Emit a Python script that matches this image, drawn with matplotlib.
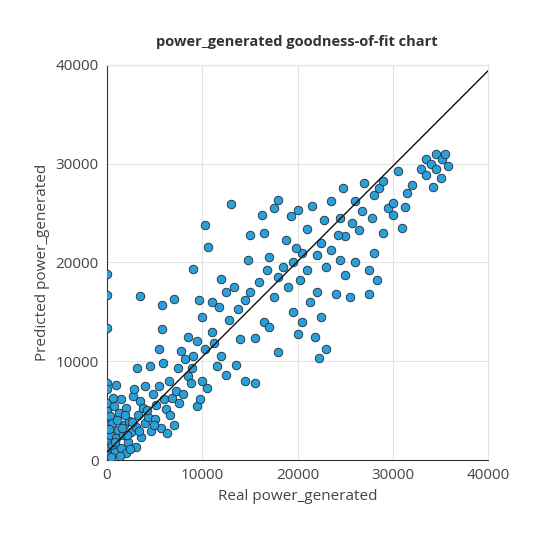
import matplotlib
matplotlib.use("Agg")
import matplotlib.pyplot as plt
import numpy as np

plt.rcParams['font.family'] = ['Open Sans', 'DejaVu Sans']

pts_k = [(0,18.8),(0,16.7),(0,13.4),(0,7.8),(0,7.2),(0,5.8),(0,5),(0,4.3),(0,3.5),(0,2.8),(0,2),(0,1.2),(0,0.5),
(0.3,4.5),(0.3,2.5),(0.5,1.5),(0.5,3.8),(0.7,5.5),(0.8,0.8),(1,2.2),(1,7.6),(1.2,3),(1.3,4.8),(1.5,1.2),(1.5,6.2),
(1.7,2.5),(1.8,3.6),(2,0.7),(2,5.3),(2.2,1.8),(2.3,4),(2.5,2.8),(2.7,6.5),(2.8,7.2),(3,3.3),(3,1.3),(3.2,9.3),(3.3,4.6),
(3.5,16.6),(3.5,6),(3.6,2.3),(3.8,5.3),(4,3.8),(4,7.5),(4.3,4.4),(4.5,9.5),(4.6,2.9),(4.8,6.7),(5,4.2),(5.2,5.6),
(5.5,11.2),(5.5,7.5),(5.7,3.2),(5.8,15.7),(5.8,13.3),(5.9,9.8),(6,6.2),(6.2,5.2),(6.3,2.7),(6.5,8),(6.8,6.3),(7,3.5),
(7,16.3),(7.2,7),(7.5,9.3),(7.8,11),(8,6.7),(8.2,10.2),(8.5,8.5),(8.5,12.5),(8.8,7.8),(9,19.3),(9,10.5),(9.5,5.5),
(9.5,12),(9.7,16.2),(10,8),(10,14.5),(10.3,23.8),(10.3,11.2),(10.5,7.3),(10.6,21.6),(11,16),(11,13),(11.5,9.5),
(11.8,15.5),(12,10.5),(12,18.3),(12.5,17),(12.5,8.6),(12.8,14.2),(13,25.9),(13.3,17.5),(13.5,9.6),(14,12.3),
(14.5,16.2),(14.5,8),(14.8,20.2),(15,22.8),(15,17),(15.5,7.8),(15.5,12.4),(16,18),(16.3,24.8),(16.5,23),(16.5,14),
(17,20.5),(17,13.5),(17.5,25.5),(17.5,16.5),(18,26.3),(18,18.5),(18,10.9),(18.5,19.5),(18.8,22.3),(19,17.5),
(19.3,24.7),(19.5,20),(19.5,15),(20,12.8),(20,25.3),(20.3,18.2),(20.5,21),(20.5,14),(21,23.4),(21,19.2),(21.3,16),
(21.5,25.7),(21.8,12.5),(22,20.8),(22,17),(22.3,10.3),(22.5,22),(22.5,14.5),(23,11.2),(23,19.5),(23.5,26.2),
(23.5,21.3),(24,16.8),(24.5,20.2),(24.5,24.5),(24.8,27.5),(25,22.7),(25,18.7),(25.5,16.5),(25.7,24),(26,26.2),
(26,20),(26.5,23.3),(27,28),(27.5,16.8),(27.5,19.2),(27.8,24.5),(28,26.8),(28,21),(28.3,18.2),(28.5,27.5),(29,28.2),
(29,23),(29.5,25.5),(30,24.8),(30,26),(30.5,29.3),(31,23.5),(31.3,25.6),(31.5,27),(32,27.8),(33,29.5),(33.5,30.5),
(33.5,28.8),(34,30),(34.2,27.6),(34.5,31),(34.5,29.5),(35,28.5),(35.2,30.5),(35.5,31),(35.8,29.8),
(0.4,0.3),(0.9,1.8),(1.1,4.1),(1.4,0.4),(1.6,3.2),(2.1,2.5),(2.4,1.1),(0.6,6.3),(0.2,3.1),(1.9,4.6),(2.6,3.9),
(3.4,2.9),(4.2,5.1),(4.9,3.6),(6.6,4.6),(7.6,5.8),(8.9,9.3),(9.8,6.2),(11.2,11.8),(13.8,15.3),(16.8,19.2),
(19.8,21.5),(22.8,24.3),(26.8,25.2),(24.2,22.8)]

real = [p[0]*1000 for p in pts_k]
pred = [p[1]*1000 for p in pts_k]
line_x = [0, 40000]
line_y = [800, 39400]

fig = plt.figure(figsize=(5.4,5.4), dpi=100)
ax = fig.add_axes([0.198, 0.148, 0.706, 0.732])
ax.scatter(real, pred, s=38, c='#2b9fd8', edgecolors='#1f2d3a', linewidths=0.6, zorder=3)
ax.plot(line_x, line_y, color='#111111', lw=1, zorder=4)
ax.set_xlim(0, 40000); ax.set_ylim(0, 40000)
ax.set_xticks([0,10000,20000,30000,40000]); ax.set_yticks([0,10000,20000,30000,40000])
ax.grid(True, color='#e3e3e3', lw=0.8, zorder=0)
for s in ax.spines.values():
    s.set_color('#e3e3e3')
ax.spines['left'].set_color('#333333'); ax.spines['bottom'].set_color('#333333')
ax.tick_params(length=0, labelsize=11, colors='#444444', pad=6)
ax.set_xlabel('Real power_generated', fontsize=11, color='#444444')
ax.set_ylabel('Predicted power_generated', fontsize=11, color='#444444')
fig.text(0.55, 0.915, 'power_generated goodness-of-fit chart', ha='center', fontsize=10.5, fontweight='bold', color='#333333')
fig.savefig('out.png', dpi=100)
